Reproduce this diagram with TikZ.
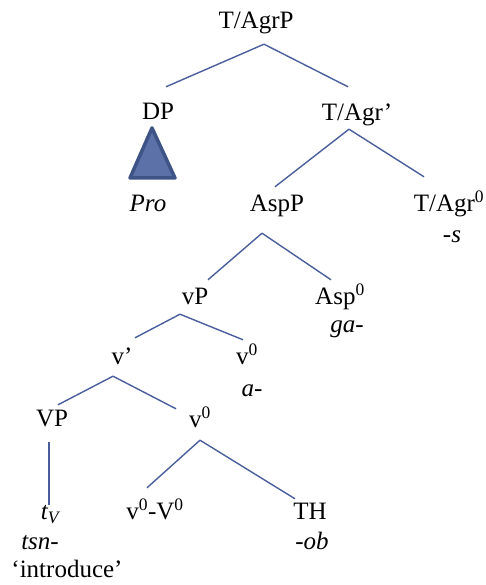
\documentclass[tikz,border=0pt]{standalone}
\usepackage{fontspec}
\setmainfont{Liberation Serif}
\usepackage{tikz}
\usetikzlibrary{
    calc,
    positioning
}
\usepackage{xcolor}
\definecolor{branchblue}{HTML}{4A5E9C}
\definecolor{roofblue}{HTML}{5B71A8}
\definecolor{roofedge}{HTML}{3E5487}

\begin{document}
\begin{tikzpicture}[x=1pt, y=1pt]
  \useasboundingbox (0,0) rectangle (485,585);

  % Styles for labels and branches
  \tikzset{
    lbl/.style={anchor=base, inner sep=0pt, text height=17pt, text depth=6pt,
      font=\fontsize{25}{30}\selectfont},
    gloss/.style={lbl, font=\fontsize{25}{30}\selectfont\itshape},
    branch/.style={draw=branchblue, line width=1.4pt},
    roof/.style={draw=roofedge, fill=roofblue, line width=3.5pt, line join=round}
  };

  % Top of the tree
  \node[lbl] (TAgrP) at (256,556) {T/AgrP};
  \node[lbl] (DP) at (158,465) {DP};
  \node[lbl] (TAgrbar) at (357,464) {T/Agr’};

  % DP is a roofed subject
  \draw[roof] (152,457) -- (130,407) -- (175,407) -- cycle;
  \node[gloss] (Pro) at (148,373) {Pro};

  % Aspect layer and T/Agr head
  \node[lbl] (AspP) at (277,373) {AspP};
  \node[lbl] (TAgrhead) at (449,373) {T/Agr\textsuperscript{0}};
  \node[gloss] (s) at (452,342) {-s};

  \node[lbl] (vP) at (195,280) {vP};
  \node[lbl] (Asphead) at (340,280) {Asp\textsuperscript{0}};
  \node[gloss] (ga) at (347,252) {ga-};

  % Little v layer
  \node[lbl] (vbar) at (122,220) {v’};
  \node[lbl] (vheadA) at (247,220) {v\textsuperscript{0}};
  \node[gloss] (a) at (252,188) {a-};

  \node[lbl] (VP) at (52,158) {VP};
  \node[lbl] (vheadB) at (200,157) {v\textsuperscript{0}};

  % Bottom row
  \node[lbl] (tV) at (50,65) {\textit{t\textsubscript{V}}};
  \node[lbl] (vV) at (155,65) {v\textsuperscript{0}-V\textsuperscript{0}};
  \node[lbl] (TH) at (310,65) {TH};
  \node[gloss] (tsn) at (40,35) {tsn-};
  \node[gloss] (ob) at (312,35) {-ob};
  \node[lbl] (gl) at (67,7) {‘introduce’};

  % Branches
  \draw[branch] ([shift={(8,-9)}]TAgrP.south) -- ([shift={(8,16)}]DP.north);
  \draw[branch] ([shift={(8,-9)}]TAgrP.south) -- ([shift={(-9,17)}]TAgrbar.north);
  \draw[branch] ([shift={(-8,-2)}]TAgrbar.south) -- ([shift={(-2,8)}]AspP.north);
  \draw[branch] ([shift={(-8,-2)}]TAgrbar.south) -- ([shift={(-25,18)}]TAgrhead.north);
  \draw[branch] ([shift={(-15,-15)}]AspP.south) -- ([shift={(13,8)}]vP.north);
  \draw[branch] ([shift={(-15,-15)}]AspP.south) -- ([shift={(-9,8)}]Asphead.north);
  \draw[branch] ([shift={(-15,-3)}]vP.south) -- ([shift={(13,10)}]vbar.north);
  \draw[branch] ([shift={(-15,-3)}]vP.south) -- ([shift={(-4,8)}]vheadA.north);
  \draw[branch] ([shift={(-9,-5)}]vbar.south) -- ([shift={(6,5)}]VP.north);
  \draw[branch] ([shift={(-9,-5)}]vbar.south) -- ([shift={(-24,2)}]vheadB.north);
  \draw[branch] ([shift={(-3,-9)}]VP.south) -- ([shift={(-1,-2)}]tV.north);
  \draw[branch] ([shift={(0,-6)}]vheadB.south) -- ([shift={(-8,15)}]vV.north);
  \draw[branch] ([shift={(0,-6)}]vheadB.south) -- ([shift={(-15,4)}]TH.north);
\end{tikzpicture}
\end{document}
